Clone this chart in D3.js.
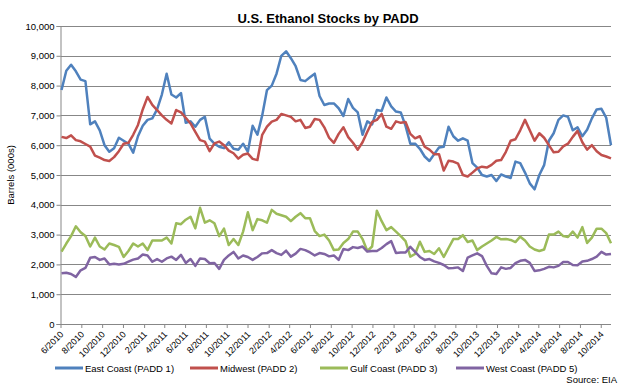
<!DOCTYPE html>
<html>
<head>
<meta charset="utf-8">
<script src="https://cdn.jsdelivr.net/npm/d3@7"></script>
<style>
  body { margin: 0; background: #fff; }
  svg { display: block; font-family: "Liberation Sans", Arial, sans-serif; }
</style>
</head>
<body>
<div id="chart"></div>
<script>
// weekly EIA stocks, every second week (000 barrels)
var firstWeek = new Date(2010, 5, 4);
var stepDays = 14;

var eastCoast = [7850,8500,8700,8480,8200,8150,6700,6800,6500,6000,5780,5900,6250,6150,6050,5750,6300,6650,6850,6900,
  7200,7700,8400,7700,7600,7750,6750,6800,6620,6850,6950,6220,6050,5950,5900,6100,5880,5850,6050,5780,
  6650,6350,7000,7850,8000,8400,9000,9150,8920,8650,8190,8150,8280,8400,7650,7350,7400,7400,7240,6980,
  7550,7250,7100,6350,6800,6700,7180,7150,7600,7300,7130,7100,6650,6050,6050,5880,5620,5470,5700,5920,
  5950,6620,6300,6150,6230,6150,5400,5250,5000,4950,5000,4800,5020,4950,4900,5450,5400,5080,4720,4520,
  5000,5330,6150,6400,6850,7000,6950,6500,6600,6300,6520,6900,7200,7220,6920,6000];

var midwest = [6280,6240,6330,6170,6130,6040,5950,5650,5580,5500,5470,5600,5800,6050,6080,6350,6680,7200,7620,7350,
  7180,7000,6850,6730,7180,7100,6920,6730,6450,6170,6120,5800,6060,6120,6000,5820,5730,5550,5680,5720,
  5540,5500,6350,6620,6790,6850,7050,7000,6950,6800,6850,6580,6620,6880,6850,6600,6250,6080,6380,6600,
  6270,6080,5850,6100,6450,6780,6850,7050,6620,6550,6800,6750,6780,6380,6230,6300,5950,5850,5700,5700,
  5150,5480,5450,5380,5000,4950,5080,5220,5280,5250,5340,5480,5500,5780,6150,6200,6500,6850,6500,6150,
  6400,6250,6000,5760,5780,5960,6050,6280,6480,6100,5850,6000,5800,5670,5620,5560];

var gulfCoast = [2430,2700,2950,3280,3080,2950,2600,2900,2600,2500,2700,2650,2590,2250,2450,2700,2600,2700,2480,2800,
  2800,2800,2900,2700,3380,3350,3500,3600,3210,3900,3400,3480,3380,2950,3200,2650,2850,2650,3100,3750,
  3150,3520,3480,3400,3830,3700,3650,3600,3450,3600,3720,3550,3550,3120,2950,3000,2800,2480,2500,2720,
  2850,3100,3100,2850,2450,2600,3800,3450,3150,3250,3100,2950,2780,2260,2350,2760,2420,2450,2350,2540,
  2250,2550,2850,2850,2980,2750,2800,2480,2600,2700,2800,2920,2840,2850,2820,2750,2930,2800,2600,2500,
  2450,2500,3000,3000,3100,2950,2920,3100,2900,3250,2720,2900,3200,3200,3050,2710];

var westCoast = [1700,1720,1680,1580,1800,1880,2220,2250,2150,2200,2000,2020,2000,2020,2090,2160,2200,2330,2300,2090,
  2180,2090,2200,2260,2150,2320,2050,2180,1950,2200,2180,2040,2050,1850,2150,2300,2420,2200,2300,2250,
  2150,2250,2370,2380,2480,2380,2320,2460,2260,2360,2520,2480,2400,2300,2380,2350,2270,2300,2150,2520,
  2480,2580,2550,2600,2430,2450,2450,2550,2680,2780,2380,2400,2400,2590,2420,2250,2150,2180,2100,2050,
  1980,1870,1880,1900,1780,2230,2300,2370,2280,1950,1700,1680,1900,1850,1880,2040,2120,2150,2050,1780,
  1800,1850,1920,1900,1950,2080,2080,1980,1970,2100,2120,2180,2260,2420,2330,2350];

var seriesNames = ["East Coast (PADD 1)", "Midwest (PADD 2)", "Gulf Coast (PADD 3)", "West Coast (PADD 5)"];
var seriesValues = [eastCoast, midwest, gulfCoast, westCoast];
var colors = ["#4f81bd", "#c0504d", "#9bbb59", "#8064a2"];
var yTicks = [0, 1000, 2000, 3000, 4000, 5000, 6000, 7000, 8000, 9000, 10000];
var xStart = new Date(2010, 5, 1), xEnd = new Date(2014, 9, 31);
var xTicks = d3.timeMonths(xStart, new Date(2014, 10, 1), 2);

var width = 628, height = 388;
var plot = { left: 60.5, right: 611, top: 26, bottom: 324 };

var svg = d3.select("#chart").append("svg")
  .attr("width", width)
  .attr("height", height);

var x = d3.scaleTime().domain([xStart, xEnd]).range([plot.left, plot.right]);
var y = d3.scaleLinear().domain([0, 10000]).range([plot.bottom, plot.top]);

// gridlines
svg.append("g")
  .selectAll("line")
  .data(yTicks.filter(function(d) { return d > 0; }))
  .enter().append("line")
  .attr("x1", plot.left).attr("x2", plot.right)
  .attr("y1", function(d) { return Math.round(y(d)) + 0.5; })
  .attr("y2", function(d) { return Math.round(y(d)) + 0.5; })
  .attr("stroke", "#878787")
  .attr("stroke-width", 1);

// y axis
var yAxis = d3.axisLeft(y).tickValues(yTicks).tickSize(4).tickFormat(d3.format(","));
var yAxisG = svg.append("g")
  .attr("transform", "translate(" + plot.left + ",0)")
  .call(yAxis);
yAxisG.select(".domain").attr("stroke", "#878787");
yAxisG.selectAll(".tick line").attr("stroke", "#878787");
yAxisG.selectAll(".tick text")
  .attr("x", -6)
  .attr("font-size", 9.5)
  .attr("font-family", "Liberation Sans, Arial, sans-serif")
  .attr("fill", "#000");

// x axis
var xAxis = d3.axisBottom(x).tickValues(xTicks).tickSize(4).tickFormat(d3.timeFormat("%-m/%Y"));
var xAxisG = svg.append("g")
  .attr("transform", "translate(0," + plot.bottom + ")")
  .call(xAxis);
xAxisG.select(".domain").attr("stroke", "#878787").attr("d", "M" + plot.left + ",0.5H" + plot.right);
xAxisG.selectAll(".tick line").attr("stroke", "#878787");
xAxisG.selectAll(".tick text")
  .attr("font-size", 9)
  .attr("font-family", "Liberation Sans, Arial, sans-serif")
  .attr("fill", "#000")
  .attr("text-anchor", "end")
  .attr("dy", null)
  .attr("y", 0)
  .attr("transform", "translate(3,11) rotate(-45)");

// series lines
var line = d3.line()
  .x(function(d, i) { return x(d3.timeDay.offset(firstWeek, i * stepDays)); })
  .y(function(d) { return y(d); })
  .curve(d3.curveLinear);

svg.append("g")
  .selectAll("path")
  .data(seriesValues)
  .enter().append("path")
  .attr("d", function(d) { return line(d); })
  .attr("fill", "none")
  .attr("stroke", function(d, i) { return colors[i]; })
  .attr("stroke-width", 2.5)
  .attr("stroke-linejoin", "round");

// title and axis title
svg.append("text")
  .attr("x", 328).attr("y", 23)
  .attr("text-anchor", "middle")
  .attr("font-size", 13)
  .attr("font-weight", "bold")
  .text("U.S. Ethanol Stocks by PADD");

svg.append("text")
  .attr("transform", "translate(14," + ((plot.top + plot.bottom) / 2) + ") rotate(-90)")
  .attr("text-anchor", "middle")
  .attr("font-size", 9.5)
  .text("Barrels (000s)");

// legend
var legendX = [55, 190, 320, 456];
var legend = svg.append("g").selectAll("g")
  .data(seriesNames)
  .enter().append("g")
  .attr("transform", function(d, i) { return "translate(" + legendX[i] + ",368)"; });
legend.append("line")
  .attr("x1", 0).attr("x2", 28)
  .attr("stroke", function(d, i) { return colors[i]; })
  .attr("stroke-width", 3);
legend.append("text")
  .attr("x", 30).attr("y", 3.5)
  .attr("font-size", 9.5)
  .text(function(d) { return d; });

svg.append("text")
  .attr("x", 617).attr("y", 383)
  .attr("text-anchor", "end")
  .attr("font-size", 9.5)
  .text("Source: EIA");
</script>
</body>
</html>
